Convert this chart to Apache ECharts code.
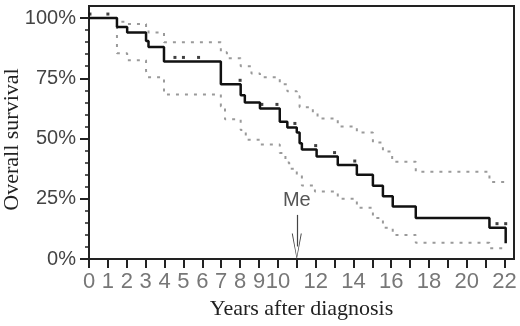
<!DOCTYPE html>
<html>
<head>
<meta charset="utf-8">
<script src="https://cdn.jsdelivr.net/npm/echarts@6/dist/echarts.min.js"></script>
<style>
  html, body { margin: 0; padding: 0; background: #fff; }
  #chart1 { width: 520px; height: 326px; }
</style>
</head>
<body>
<div id="chart1"></div>
<script>
// 数据：Kaplan-Meier 曲线（年, 生存率%）
var mainTimes = [0, 1.48, 2.02, 3.02, 3.15, 3.97, 6.98, 8.03, 8.25, 9.05, 10.1, 10.5, 11.0, 11.15, 11.27, 12.05, 13.17, 14.18, 15.03, 15.56, 16.08, 17.3, 21.2, 22.06];
var mainSurv  = [100, 96.25, 94, 90.5, 88, 82, 72.5, 68, 65, 62.5, 57, 54.6, 52.5, 48, 45.4, 42.5, 39, 35, 30.4, 26, 21.8, 17, 13, 6.5];

// 上置信带
var upperTimes = [0, 1.48, 2.02, 3.02, 3.15, 3.97, 6.98, 7.3, 8.03, 8.6, 9.05, 10.1, 10.5, 11.0, 11.15, 11.85, 12.1, 13.17, 14.18, 15.03, 15.56, 16.05, 17.3, 21.2, 22.06];
var upperSurv  = [100, 98.5, 97.5, 95.4, 94, 90, 85.8, 83.3, 80, 77, 75.4, 72.5, 69.6, 67.5, 63, 60.8, 58.3, 55, 52.5, 48.3, 44.6, 40.4, 36.25, 32, 32];

// 下置信带
var lowerTimes = [0, 1.48, 2.02, 3.02, 3.1, 3.97, 6.98, 7.2, 8.03, 8.3, 9.05, 10.1, 10.4, 10.6, 11.0, 11.27, 11.96, 13.17, 14.18, 15.03, 15.56, 16.08, 17.3, 21.2, 22.06];
var lowerSurv  = [100, 85.4, 82.5, 78, 75.4, 68.3, 63.3, 58, 53.5, 49.5, 47.5, 44, 40, 37.5, 35, 30.5, 28, 25, 21.25, 17, 13, 10, 6.7, 4.5, 4.5];

// 删失点
var censorTimes = [0.05, 1.0, 4.55, 5.0, 5.8, 8.0, 9.15, 9.95, 10.9, 12.0, 13.0, 14.07, 21.6, 22.06];
var censorSurv  = [100, 100, 82, 82, 82, 72.5, 62.5, 62.5, 54.6, 45.4, 42.5, 39, 13, 13];

// 刻度
var xTickValues = [0,1,2,3,4,5,6,7,8,9,10,11,12,13,14,15,16,17,18,19,20,21,22];
var xLabelValues = [0,1,2,3,4,5,6,7,8,9,10,12,14,16,18,20,22];
var yLabelValues = [0, 25, 50, 75, 100];
var yMinorValues = [0,5,10,15,20,25,30,35,40,45,50,55,60,65,70,75,80,85,90,95,100];

// 中位数标注（箭头从上到下）
var medianYear = 11;
var medianArrow = [18.3, 5.2];

function pairs(xs, ys) {
	var out = [];
	for (var i = 0; i < xs.length; i++) {
		out.push([xs[i], ys[i]]);
	}
	return out;
}

var bandStyle = { color: '#9a9a9a', width: 2, type: [3, 6] };
var vArrow = 'path://M5,0 L10,26 L9,26 L5,3 L1,26 L0,26 Z';

var option = {
	animation: false,
	backgroundColor: '#fff',
	grid: {
		left: 89, right: 6, top: 6, bottom: 67,
		outerBoundsMode: 'none',
		show: true, borderColor: '#222', borderWidth: 2
	},
	xAxis: {
		type: 'value',
		min: 0, max: 22.5, interval: 1,
		name: 'Years after diagnosis',
		nameLocation: 'middle',
		nameGap: 35,
		nameTextStyle: { fontFamily: 'Liberation Serif', fontSize: 22, color: '#222' },
		axisLine: { lineStyle: { color: '#222', width: 2 } },
		axisTick: { length: 9, customValues: xTickValues, lineStyle: { color: '#222', width: 2 } },
		axisLabel: {
			customValues: xLabelValues, margin: 12,
			fontFamily: 'Liberation Sans Narrow, Liberation Sans', fontSize: 22, color: '#777'
		},
		splitLine: { show: false }
	},
	yAxis: [{
		type: 'value',
		min: 0, max: 105, interval: 25,
		name: 'Overall survival',
		nameLocation: 'middle',
		nameGap: 66,
		nameRotate: 90,
		nameMoveOverlap: false,
		nameTextStyle: { fontFamily: 'Liberation Serif', fontSize: 22, color: '#222', padding: [0, 14, 0, 0] },
		axisLine: { lineStyle: { color: '#222', width: 2 } },
		axisTick: { length: 9, customValues: yLabelValues, lineStyle: { color: '#222', width: 2 } },
		axisLabel: {
			customValues: yLabelValues, margin: 13,
			fontFamily: 'Liberation Sans', fontSize: 20, color: '#444',
			formatter: '{value}%'
		},
		splitLine: { show: false }
	}, {
		// 次刻度
		type: 'value',
		min: 0, max: 105, position: 'left',
		axisLine: { show: false },
		axisTick: { length: 4, customValues: yMinorValues, lineStyle: { color: '#222', width: 1.5 } },
		axisLabel: { show: false },
		splitLine: { show: false }
	}],
	series: [{
		name: 'upper',
		type: 'line', step: 'end', symbol: 'none', z: 2,
		data: pairs(upperTimes, upperSurv),
		lineStyle: bandStyle
	}, {
		name: 'lower',
		type: 'line', step: 'end', symbol: 'none', z: 2,
		data: pairs(lowerTimes, lowerSurv),
		lineStyle: bandStyle
	}, {
		name: 'survival',
		type: 'line', step: 'end', symbol: 'none', z: 3,
		data: pairs(mainTimes, mainSurv),
		lineStyle: { color: '#111', width: 2.5 },
		markLine: {
			silent: true,
			symbol: ['none', vArrow],
			symbolSize: [10, 26],
			lineStyle: { color: '#444', width: 1.2, type: 'solid' },
			label: {
				show: true, position: 'start', distance: 4,
				formatter: 'Me', fontFamily: 'Liberation Sans', fontSize: 20, color: '#555'
			},
			data: [[{ coord: [medianYear, medianArrow[0]] }, { coord: [medianYear, medianArrow[1]] }]]
		}
	}, {
		name: 'censored',
		type: 'scatter', z: 4,
		symbol: 'rect', symbolSize: [3, 3], symbolOffset: [0, -4],
		itemStyle: { color: '#111' },
		data: pairs(censorTimes, censorSurv)
	}]
};

var myChart = echarts.init(document.getElementById('chart1'));
myChart.setOption(option);
</script>
</body>
</html>
